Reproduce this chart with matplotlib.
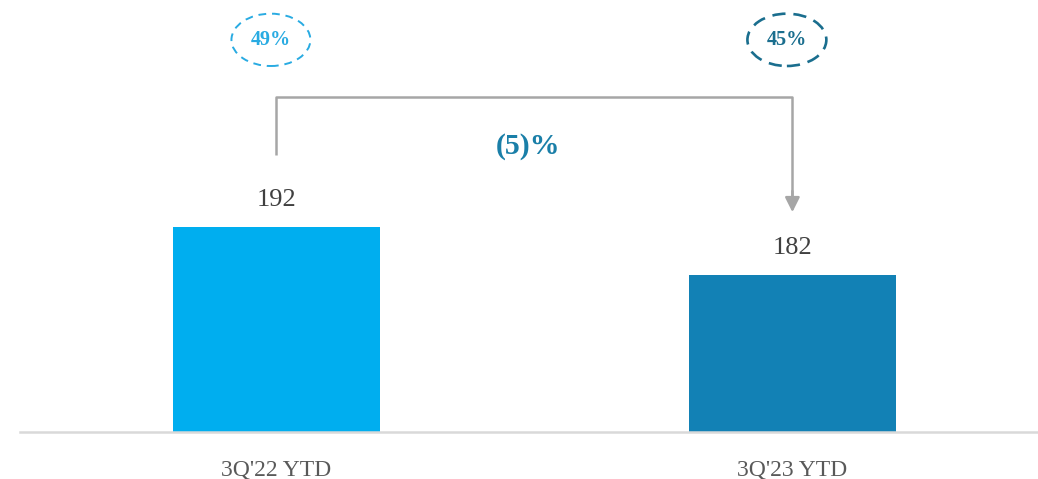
import matplotlib.pyplot as plt
from matplotlib.patches import Ellipse

# valori si etichete
categorii = ["3Q'22 YTD", "3Q'23 YTD"]
valori = [192, 182]
culori_bare = ['#00AEEF', '#1281B5']
procente = ['49%', '45%']
culori_procente = ['#29ABE2', '#1A6E8E']
variatie = '(5)%'

plt.rcParams['font.family'] = ['Liberation Serif', 'DejaVu Serif']

fig = plt.figure(figsize=(10.38, 4.79), dpi=100)
ax = fig.add_axes([20 / 1038, 47 / 479, 1 - 20 / 1038, 1 - 47 / 479])

x = [0, 1]
ax.bar(x, valori, width=0.401, color=culori_bare, bottom=0)
ax.set_xlim(-0.497, 1.476)
ax.set_ylim(149.3, 239.3)

# doar linia de baza
for s in ['top', 'right', 'left']:
    ax.spines[s].set_visible(False)
ax.spines['bottom'].set_color('#D9D9D9')
ax.spines['bottom'].set_linewidth(1.8)
ax.set_yticks([])
ax.set_xticks(x)
ax.set_xticklabels(categorii, fontsize=17, color='#595959')
ax.tick_params(axis='x', length=0, pad=20)

# etichete valori deasupra barelor
for xi, v in zip(x, valori):
    ax.text(xi, v + 3.4, str(v), ha='center', va='bottom', fontsize=19, color='#404040')

# paranteza cu sageata intre cele doua perioade
gri = '#A6A6A6'
y_sus = 219.1
ax.plot([0, 0, 1, 1], [207.0, y_sus, y_sus, 198.5], color=gri, lw=1.8,
        solid_capstyle='butt', clip_on=False)
ax.annotate('', xy=(1, 195.1), xytext=(1, 199.5),
            arrowprops=dict(arrowstyle='-|>', color=gri, lw=1.8,
                            mutation_scale=22, shrinkA=0, shrinkB=0))
ax.text(0.488, 208.8, variatie, ha='center', va='center', fontsize=21.5,
        fontweight='bold', color='#1A7FA8')

# procente in elipse punctate
centre_x = [-0.0107, -0.0107 + 1]
for cx, p, c, ls, lw in zip(centre_x, procente, culori_procente,
                            [(0, (4, 3)), (0, (5, 3))], [1.4, 1.9]):
    e = Ellipse((cx, 231.0), width=0.153, height=10.9, fill=False,
                edgecolor=c, linestyle=ls, linewidth=lw, clip_on=False)
    ax.add_patch(e)
    ax.text(cx, 231.0, p, ha='center', va='center', fontsize=14.5,
            fontweight='bold', color=c)

fig.savefig('out.png', dpi=100)
